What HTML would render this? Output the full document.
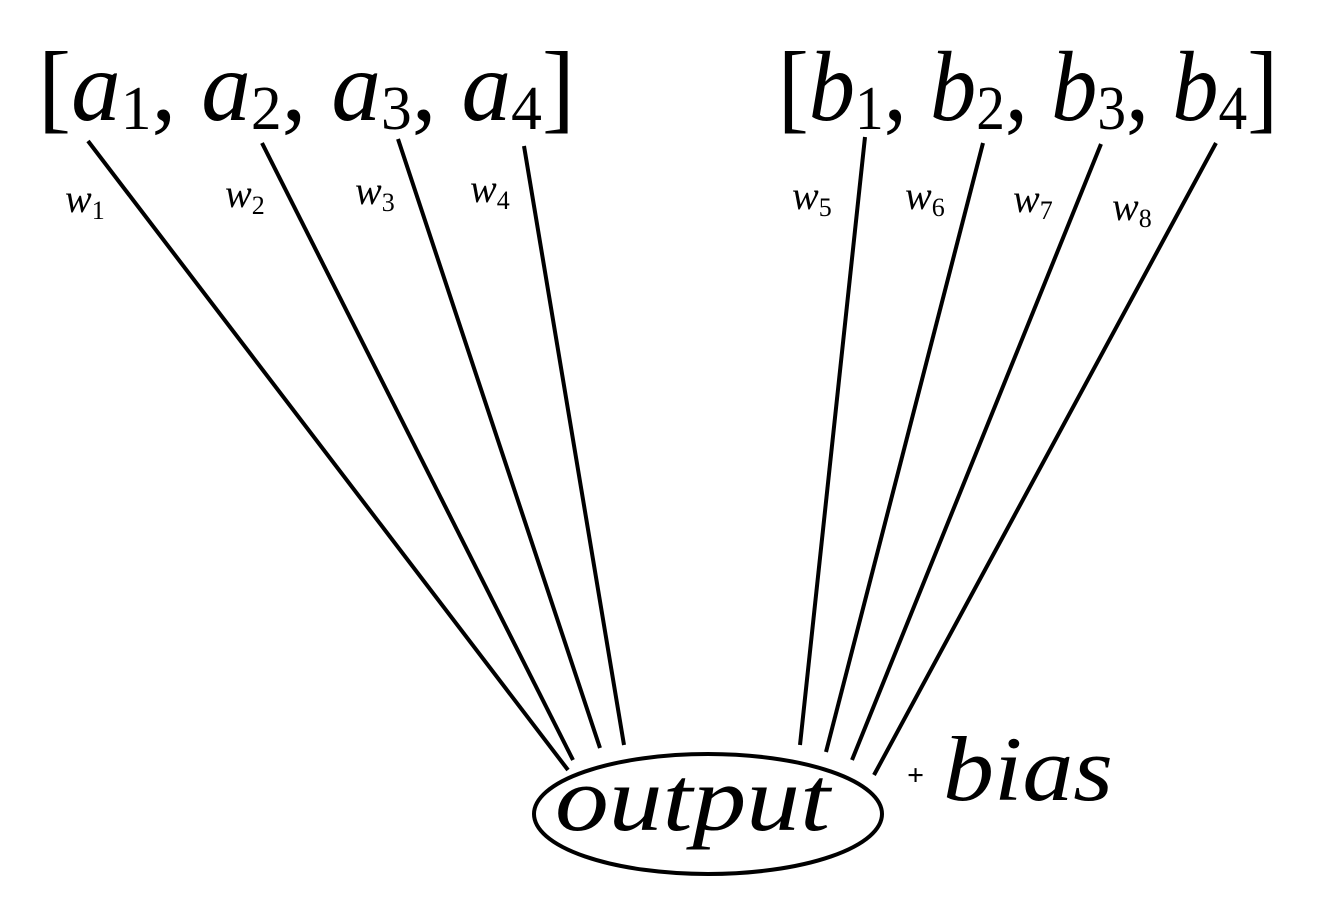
<!DOCTYPE html>
<html><head><meta charset="utf-8"><style>
html,body{margin:0;padding:0;background:#fff;}
svg{display:block}
text{font-family:"Liberation Serif",serif;fill:#000}
.it{font-style:italic}
</style></head><body>
<svg width="1326" height="912" viewBox="0 0 1326 912">
<g id="edges"></g>
<text x="38" y="120" font-size="100" textLength="537" lengthAdjust="spacingAndGlyphs">[<tspan class="it">a</tspan><tspan font-size="62" dy="9">1</tspan><tspan dy="-9">, </tspan><tspan class="it">a</tspan><tspan font-size="62" dy="9">2</tspan><tspan dy="-9">, </tspan><tspan class="it">a</tspan><tspan font-size="62" dy="9">3</tspan><tspan dy="-9">, </tspan><tspan class="it">a</tspan><tspan font-size="62" dy="9">4</tspan><tspan dy="-9">]</tspan></text>
<text x="778" y="120" font-size="100" textLength="500" lengthAdjust="spacingAndGlyphs">[<tspan class="it">b</tspan><tspan font-size="62" dy="9">1</tspan><tspan dy="-9">, </tspan><tspan class="it">b</tspan><tspan font-size="62" dy="9">2</tspan><tspan dy="-9">, </tspan><tspan class="it">b</tspan><tspan font-size="62" dy="9">3</tspan><tspan dy="-9">, </tspan><tspan class="it">b</tspan><tspan font-size="62" dy="9">4</tspan><tspan dy="-9">]</tspan></text>
<g id="labels"></g>
<ellipse cx="708" cy="814" rx="174" ry="60" fill="none" stroke="#000" stroke-width="4"/>
<text x="555" y="830" font-size="92" class="it" textLength="275" lengthAdjust="spacingAndGlyphs">output</text>
<text x="907" y="785" font-size="30" font-weight="bold" font-family="Liberation Sans, sans-serif">+</text>
<text x="943" y="800" font-size="92" class="it" textLength="170" lengthAdjust="spacingAndGlyphs">bias</text>
</svg>
<script>
const edgeNames=["w1","w2","w3","w4","w5","w6","w7","w8"];
const edgeStartX=[88,262,398,524,865,983,1101,1216];
const edgeStartY=[141,143,139,146,137,143,144,143];
const edgeEndX=[568,573,600,624,800,826,852,874];
const edgeEndY=[770,760,748,745,745,752,760,775];
const labelX=[65,225,355,470,792,905,1013,1112];
const labelY=[212,207,204,202,209,209,212,220];
const ns="http://www.w3.org/2000/svg";
const eg=document.getElementById('edges'),lg=document.getElementById('labels');
edgeNames.forEach((n,i)=>{
 const l=document.createElementNS(ns,'line');
 l.setAttribute('x1',edgeStartX[i]);l.setAttribute('y1',edgeStartY[i]);
 l.setAttribute('x2',edgeEndX[i]);l.setAttribute('y2',edgeEndY[i]);
 l.setAttribute('stroke','#000');l.setAttribute('stroke-width','4');
 
 
 eg.appendChild(l);
 const t=document.createElementNS(ns,'text');
 t.setAttribute('x',labelX[i]);t.setAttribute('y',labelY[i]);
 t.setAttribute('font-size','40');
 t.innerHTML='<tspan class="it">w</tspan><tspan font-size="26" dy="7">'+n.slice(1)+'</tspan>';
 
 
 lg.appendChild(t);
});
</script>
</body></html>
